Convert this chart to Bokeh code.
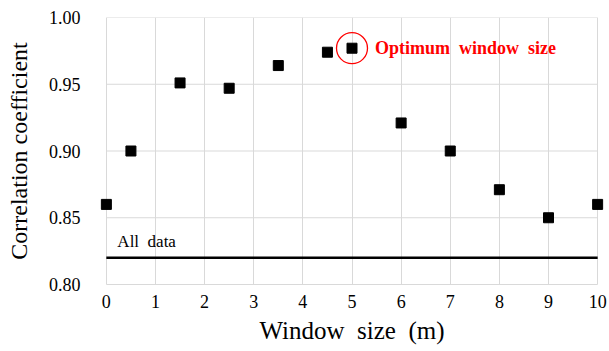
from bokeh.plotting import figure
from bokeh.models import ColumnDataSource, Label, FixedTicker, PrintfTickFormatter, Range1d
from bokeh.embed import file_html
from bokeh.resources import INLINE

window_size = [0, 0.5, 1.5, 2.5, 3.5, 4.5, 5, 6, 7, 8, 9, 10]
correlation = [0.860, 0.900, 0.951, 0.947, 0.964, 0.974, 0.977, 0.921, 0.900, 0.871, 0.850, 0.860]
all_data_value = 0.820
optimum_x = 5
optimum_y = 0.977
x_ticks = [0, 1, 2, 3, 4, 5, 6, 7, 8, 9, 10]
y_ticks = [0.80, 0.85, 0.90, 0.95, 1.00]

FONT = "Liberation Serif"
GRID = "#d9d9d9"
PAD = 0.16

p = figure(width=609, height=351, output_backend="svg", toolbar_location=None,
           x_range=Range1d(x_ticks[0] - PAD, x_ticks[-1] + PAD),
           y_range=Range1d(y_ticks[0], y_ticks[-1]),
           min_border_left=98, min_border_right=4, min_border_top=17, min_border_bottom=67)
p.outline_line_color = None
p.background_fill_color = "white"
p.border_fill_color = "white"

for ax in (p.xaxis[0], p.yaxis[0]):
    ax.major_tick_line_color = None
    ax.minor_tick_line_color = None
    ax.major_label_text_font = FONT
    ax.major_label_text_font_size = "18px"
    ax.major_label_text_color = "black"
    ax.axis_label_text_font = FONT
    ax.axis_label_text_font_style = "normal"
    ax.axis_label_text_color = "black"

p.xaxis.axis_line_color = GRID
p.xaxis.bounds = (x_ticks[0], x_ticks[-1])
p.yaxis.axis_line_color = None
p.xaxis.ticker = FixedTicker(ticks=x_ticks)
p.yaxis.ticker = FixedTicker(ticks=y_ticks)
p.yaxis.formatter = PrintfTickFormatter(format="%.2f")
p.xaxis.axis_label = "Window\u00a0 size\u00a0 (m)"
p.yaxis.axis_label = "Correlation coefficient"
p.xaxis.axis_label_text_font_size = "25px"
p.yaxis.axis_label_text_font_size = "24px"
p.xaxis.major_label_standoff = 4
p.yaxis.major_label_standoff = 12
p.xaxis.axis_label_standoff = 6
p.yaxis.axis_label_standoff = 14

p.xgrid.ticker = FixedTicker(ticks=x_ticks)
p.xgrid.grid_line_color = GRID
p.ygrid.grid_line_color = None

# horizontal grid lines only between first and last x tick
p.segment(x0=[x_ticks[0]] * len(y_ticks), x1=[x_ticks[-1]] * len(y_ticks), y0=y_ticks, y1=y_ticks,
          line_color=GRID, line_width=1, level="underlay")

# "All data" reference line
p.line([x_ticks[0], x_ticks[-1]], [all_data_value, all_data_value], line_color="black", line_width=2.5)

src = ColumnDataSource(data=dict(x=window_size, y=correlation))
p.scatter("x", "y", source=src, marker="square", size=10, fill_color="black", line_color="black")

p.scatter([optimum_x], [optimum_y], marker="circle", size=31, fill_color=None, line_color="red", line_width=1.3)

p.add_layout(Label(x=optimum_x, y=optimum_y, x_offset=23, text="Optimum\u00a0 window\u00a0 size",
                   text_font=FONT, text_font_size="18px", text_font_style="bold",
                   text_color="red", text_baseline="middle"))
p.add_layout(Label(x=x_ticks[0], y=all_data_value, x_offset=11, y_offset=7, text="All\u00a0 data",
                   text_font=FONT, text_font_size="17px", text_color="black",
                   text_baseline="bottom"))

open("out.html", "w").write(file_html(p, INLINE))
